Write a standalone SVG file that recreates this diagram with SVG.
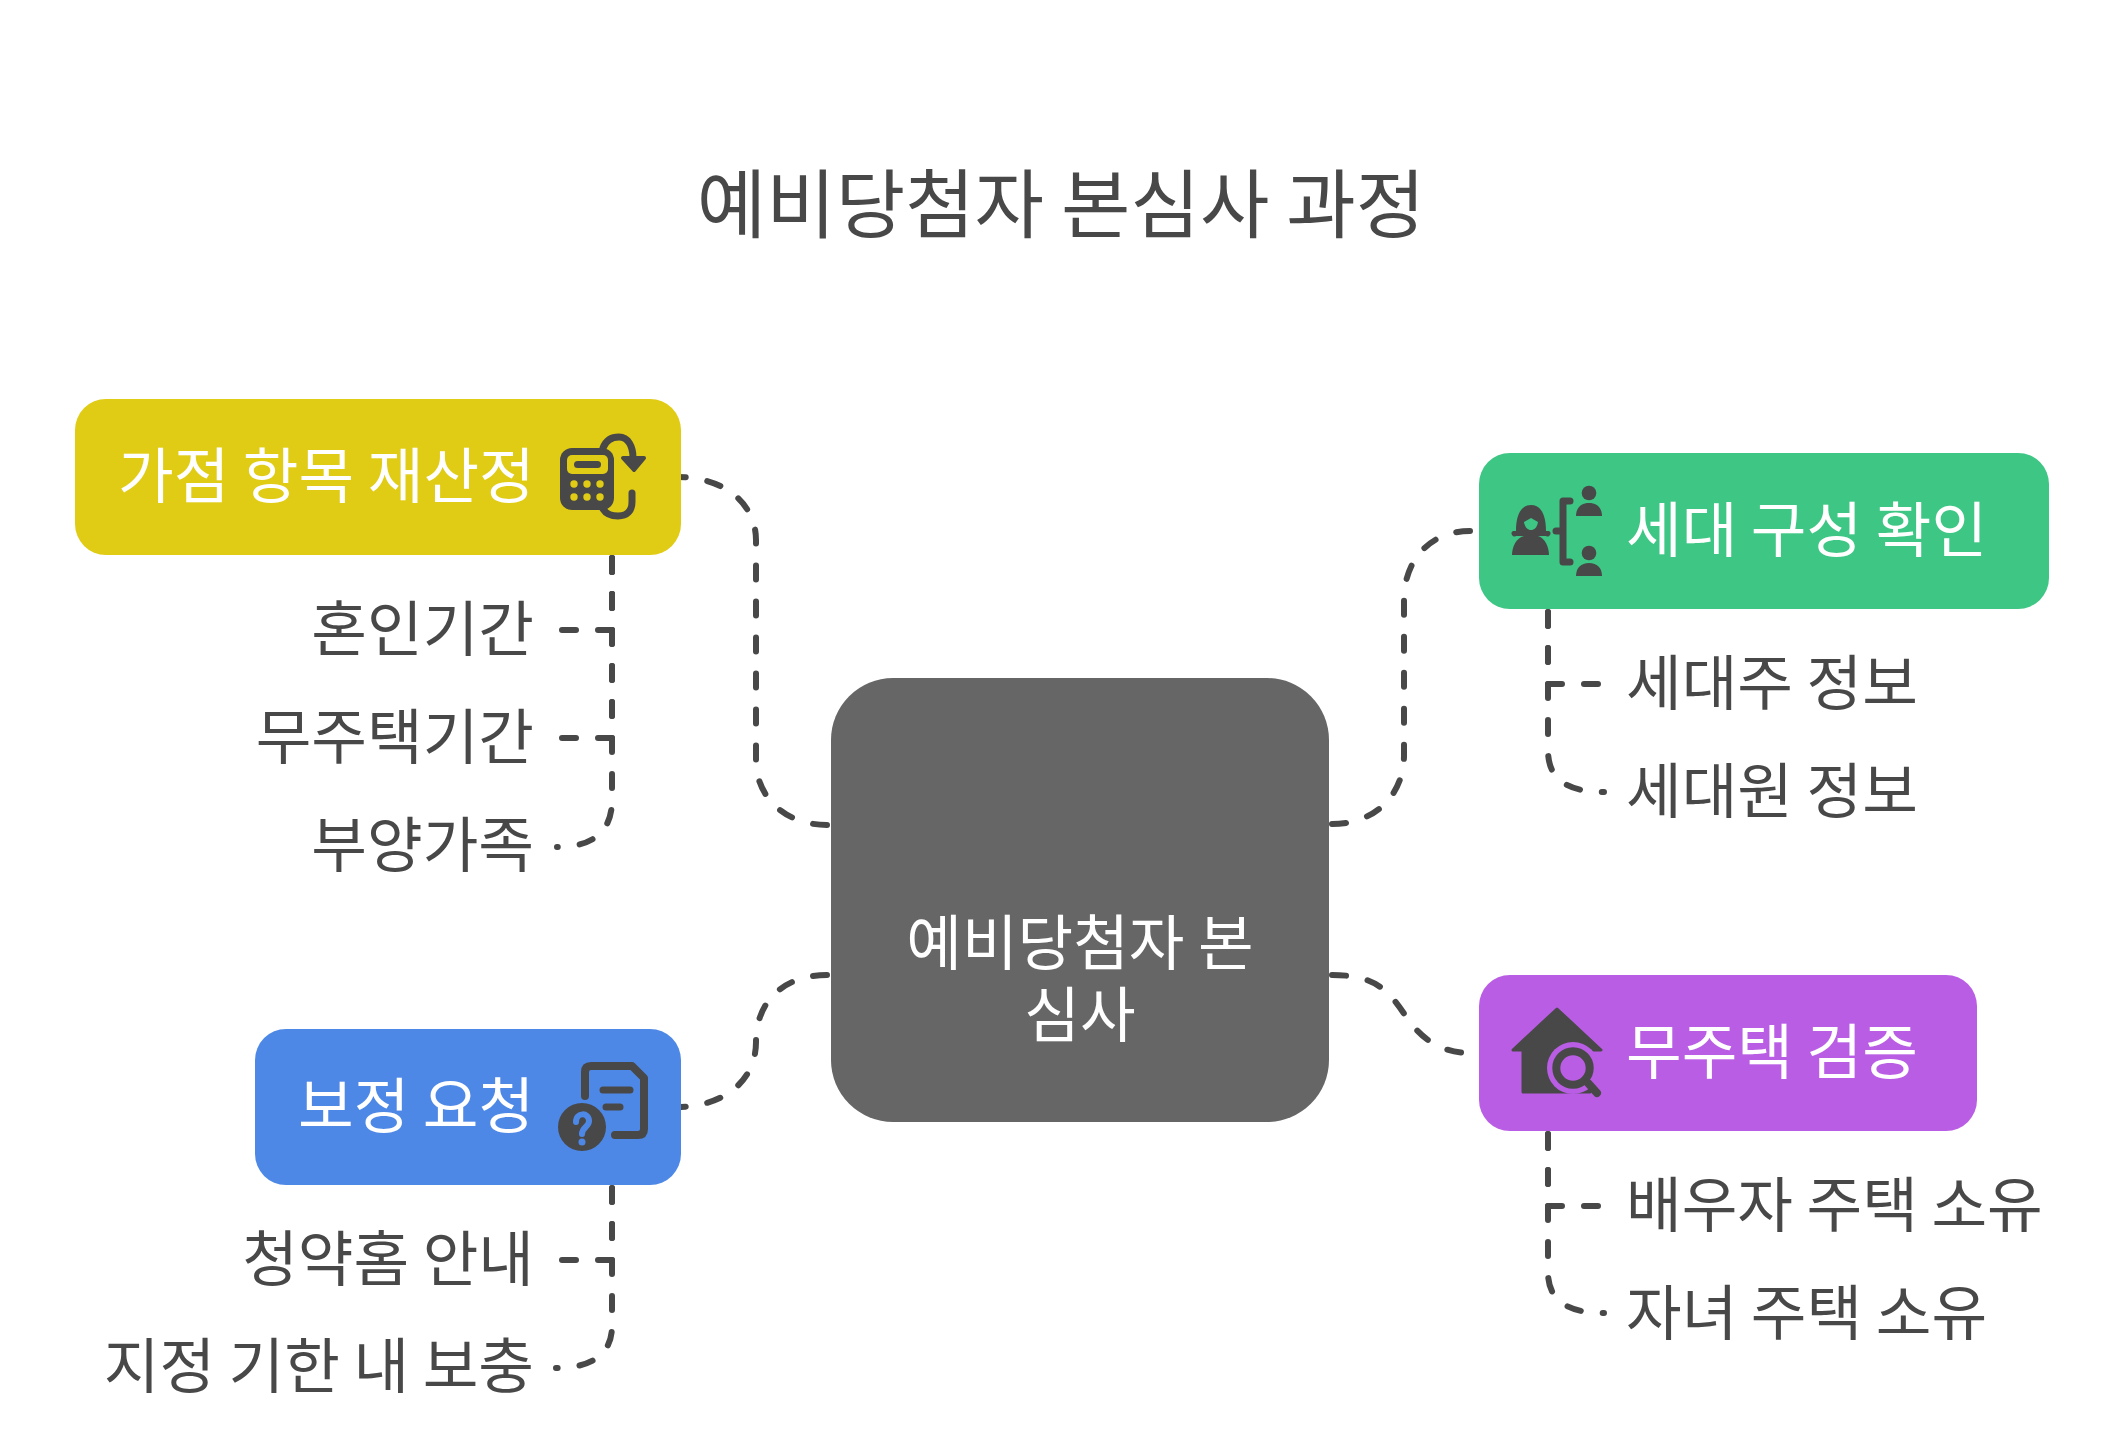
<svg xmlns="http://www.w3.org/2000/svg" width="2124" height="1452" viewBox="0 0 2124 1452">
<style>
text{font-family:"Noto Sans CJK KR","Noto Sans",sans-serif;font-size:60.500px;fill:#484848}
.w{fill:#fff}
.c{fill:none;stroke:#484848;stroke-width:6;stroke-linecap:round;stroke-linejoin:round;stroke-dasharray:14 22}
.ic{fill:#484848}
.is{fill:none;stroke:#484848;stroke-linecap:round;stroke-linejoin:round}
</style>
<rect width="2124" height="1452" fill="#fff"/>
<text id="title" x="1061" y="232" text-anchor="middle" style="font-size:75.500px">예비당첨자 본심사 과정</text>
<g id="connectors">
<path class="c" d="M827 825C787 825 756 799 756 760L756 540C756 508 730 477 676 477"/>
<path class="c" d="M1332 824C1375 824 1404 795 1404 755L1404 600C1404 560 1430 531 1470 531"/>
<path class="c" d="M1332 975C1375 975 1388 990 1405 1015C1420 1038 1440 1053 1470 1053"/>
<path class="c" d="M827 975C785 975 756 1000 756 1042C756 1080 725 1107 676 1107"/>
<path class="c" d="M612 558L612 630L555 630"/>
<path class="c" d="M612 558L612 738L555 738"/>
<path class="c" d="M612 558L612 800C612 830 595 847 557 847"/>
<path class="c" d="M612 1188L612 1260L555 1260"/>
<path class="c" d="M612 1188L612 1326C612 1352 595 1368 556 1368"/>
<path class="c" d="M1548 612L1548 684L1601 684"/>
<path class="c" d="M1548 612L1548 750C1548 778 1565 792 1604 792"/>
<path class="c" d="M1548 1134L1548 1206L1601 1206"/>
<path class="c" d="M1548 1134L1548 1272C1548 1299 1565 1313 1604 1313"/>
</g>
<g id="node-center">
<rect x="831" y="678" width="498" height="444" rx="62" fill="#666"/>
<text class="w" x="1080" y="965" text-anchor="middle">예비당첨자 본</text>
<text class="w" x="1080" y="1037" text-anchor="middle">심사</text>
</g>
<g id="node-score">
<rect x="75" y="399" width="606" height="156" rx="31" fill="#e0cb15"/>
<text class="w" x="118" y="498">가점 항목 재산정</text>
<path class="is" stroke-width="7" d="M603 448C606 440 612 437 619 437C628 437 633 446 633 458"/>
<path class="ic" stroke="#484848" stroke-width="4" stroke-linejoin="round" d="M623 458H644L634 470Z"/>
<path class="is" stroke-width="7" d="M632 493V502C632 511 627 516 618 516C611 516 606 514 603 509"/>
<rect class="ic" x="560" y="448" width="54" height="62" rx="12"/>
<rect x="567" y="455" width="41" height="19" rx="5" fill="#e0cb15"/>
<rect class="ic" x="574" y="461" width="27" height="7" rx="3.500"/>
<g fill="#e0cb15"><circle cx="574" cy="484" r="3.700"/><circle cx="587" cy="484" r="3.700"/><circle cx="600" cy="484" r="3.700"/><circle cx="574" cy="497" r="3.700"/><circle cx="587" cy="497" r="3.700"/><circle cx="600" cy="497" r="3.700"/></g>
</g>
<text id="label-marriage" x="534" y="651" text-anchor="end">혼인기간</text>
<text id="label-nohome" x="534" y="759" text-anchor="end">무주택기간</text>
<text id="label-family" x="534" y="867" text-anchor="end">부양가족</text>
<g id="node-household">
<rect x="1479" y="453" width="570" height="156" rx="31" fill="#3dc684"/>
<text class="w" x="1626" y="552">세대 구성 확인</text>
<path class="ic" d="M1516 531C1516 515 1521 505 1531 505C1541 505 1546 515 1546 531L1549 531A2.500 2.500 0 0 1 1546 536L1538 536C1545 538 1549 547 1549 555H1512C1512 547 1516 538 1524 536L1516 536A2.500 2.500 0 0 1 1513 531Z"/>
<path d="M1524 522L1531 518L1538 522C1537 528 1534 530 1531 530C1528 530 1525 528 1524 522Z" fill="#3dc684"/>
<path class="is" stroke-width="7" d="M1570 501H1563V562H1570M1556 531H1563"/>
<circle class="ic" cx="1589" cy="493" r="7.300"/>
<path class="ic" d="M1576 516C1576 508 1581 503 1589 503C1597 503 1602 508 1602 516Z"/>
<circle class="ic" cx="1589" cy="553" r="7.300"/>
<path class="ic" d="M1576 576C1576 568 1581 563 1589 563C1597 563 1602 568 1602 576Z"/>
</g>
<text id="label-head" x="1626" y="705">세대주 정보</text>
<text id="label-member" x="1626" y="813">세대원 정보</text>
<g id="node-verify">
<rect x="1479" y="975" width="498" height="156" rx="31" fill="#ba5de5"/>
<text class="w" x="1626" y="1074">무주택 검증</text>
<path class="ic" stroke="#484848" stroke-width="3" stroke-linejoin="round" d="M1557 1009L1601 1050H1590V1092H1523V1050H1513Z"/>
<circle cx="1573" cy="1068" r="26" fill="#ba5de5"/>
<circle cx="1573" cy="1068" r="16.700" fill="#ba5de5" stroke="#484848" stroke-width="8"/>
<path class="is" stroke-width="8" d="M1588 1083L1597 1093"/>
</g>
<text id="label-spouse" x="1626" y="1227">배우자 주택 소유</text>
<text id="label-child" x="1626" y="1335">자녀 주택 소유</text>
<g id="node-request">
<rect x="255" y="1029" width="426" height="156" rx="31" fill="#4e88e7"/>
<text class="w" x="298" y="1128">보정 요청</text>
<path class="is" stroke-width="8" d="M585 1096V1072Q585 1066 591 1066H632L644 1078V1129Q644 1135 638 1135H615"/>
<path class="is" stroke-width="7" d="M603 1090H630M606 1107H620"/>
<circle class="ic" cx="582" cy="1127" r="24"/>
<path fill="none" stroke="#4e88e7" stroke-width="6" stroke-linecap="round" d="M576 1122C576 1112 589 1112 589 1121C589 1127 582 1127 582 1134"/>
<circle cx="582" cy="1142" r="3.500" fill="#4e88e7"/>
</g>
<text id="label-home" x="534" y="1281" text-anchor="end">청약홈 안내</text>
<text id="label-due" x="534" y="1388" text-anchor="end">지정 기한 내 보충</text>
</svg>
